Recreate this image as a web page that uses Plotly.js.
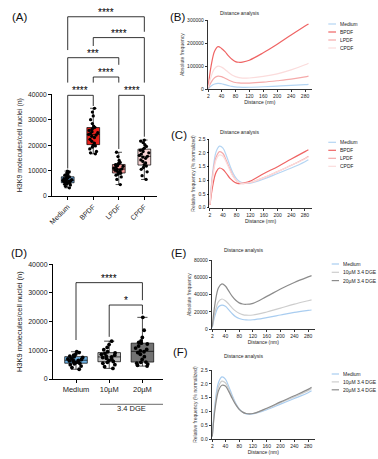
<!DOCTYPE html>
<html><head><meta charset="utf-8">
<script src="https://cdn.plot.ly/plotly-3.0.1.min.js"></script>
<style>html,body{margin:0;padding:0;background:#fff}#chart{width:378px;height:459px}</style>
</head><body><div id="chart"></div>
<script>
// ---------- Panel A data ----------
const groupsA = ['Medium','BPDF','LPDF','CPDF'];
const mediumA = [3200,3800,4300,4600,4800,5000,5100,5300,5500,5600,5800,5900,6000,6100,6200,6400,6600,6800,7000,7200,7500,7600,7900,8200,8600,9000,9400,9800];
const bpdfA = [16600,17000,17500,18500,19200,19700,20000,20800,21500,22300,23000,23500,24000,24200,24500,24900,25300,25800,26200,26700,27000,27500,28500,30000,31500,33000,34500];
const lpdfA = [4500,6500,7500,8200,8600,8900,9200,9500,9800,10100,10300,10500,10700,11000,11300,11700,12000,12300,12500,12800,13200,14000,15500,17200];
const cpdfA = [6500,8000,9500,10500,11200,11800,12300,13000,13600,14200,14800,15300,15600,16000,16500,17000,17500,18000,18300,18800,19500,20200,21000,21600,22000];
const colorsA = ['#6fa6d6','#e8221c','#f39391','#f9d4d4'];

// ---------- Panel D data ----------
const groupsD = ['Medium','10µM','20µM'];
const mediumD = [3400,4000,4500,5000,5300,5500,5700,5900,6100,6300,6500,6600,6800,7000,7200,7500,7800,8000,8300,8700,9200,9500];
const dge10D = [3700,4300,5000,5500,5800,6100,6500,6900,7200,7500,7700,8000,8300,8600,8900,9100,9500,10200,11000,12000,13200];
const dge20D = [4500,4800,5200,5500,5800,5900,6800,7800,8600,9200,9500,9800,10300,10800,11500,12200,12500,12800,13300,14500,17000,21500];
const colorsD = ['#6db3e6','#b9b9b9','#727272'];

// ---------- Distance analysis ----------
const distance = [2,10,20,30,40,50,60,70,80,90,100,120,160,200,240,280,290];
const namesBC = ['Medium','BPDF','LPDF','CPDF'];
const colorsBC = ['#b5d5f3','#ef6464','#f5aaaa','#fbdcdc'];
const absMedium = [2000,14000,23000,26000,24000,20000,16000,12500,10500,9200,8700,8800,11000,14000,17000,20500,21700];
const absBPDF = [14000,100000,165000,185000,177000,163000,145000,130000,120000,117000,118000,126000,158000,195000,235000,274000,283000];
const absLPDF = [5000,30000,50000,57000,55000,48000,40000,34000,29500,27500,26500,27000,31000,37000,44000,54000,57000];
const absCPDF = [8000,55000,90000,100000,96000,86000,73000,62000,55000,50500,48500,49000,56000,67000,84000,106000,113000];
const relMedium = [0.15,1.3,2.05,2.25,2.18,1.9,1.55,1.25,1.05,0.95,0.9,0.9,1.05,1.25,1.45,1.68,1.75];
const relBPDF = [0.1,0.8,1.3,1.45,1.4,1.25,1.08,0.97,0.9,0.88,0.9,0.97,1.25,1.5,1.78,2.05,2.12];
const relLPDF = [0.12,1.2,1.85,2.05,1.98,1.72,1.42,1.15,0.98,0.9,0.88,0.92,1.1,1.32,1.55,1.8,1.88];
const relCPDF = [0.12,1.1,1.75,1.93,1.88,1.65,1.38,1.13,0.98,0.91,0.89,0.92,1.1,1.32,1.55,1.78,1.85];

const namesEF = ['Medium','10µM 3.4 DGE','20µM 3.4 DGE'];
const colorsEF = ['#a9cdf0','#cdcdcd','#8c8c8c'];
const absMediumE = [2000,16000,26000,28000,26500,22500,18000,14500,12500,11300,10800,11000,13500,16500,19500,21800,22300];
const abs10E = [2500,20000,32000,35000,33000,29000,24500,21000,18500,17000,16300,16500,20000,24500,29000,33000,34000];
const abs20E = [3000,30000,48000,52500,50000,44000,38000,33500,30500,29200,28900,30000,38000,46500,54000,60500,62000];
const relMediumF = [0.1,1.3,2.05,2.25,2.17,1.9,1.58,1.3,1.1,0.98,0.92,0.92,1.07,1.27,1.47,1.68,1.75];
const rel10F = [0.1,1.2,1.9,2.1,2.04,1.8,1.52,1.27,1.09,0.98,0.93,0.93,1.1,1.32,1.53,1.75,1.83];
const rel20F = [0.1,1.1,1.75,1.95,1.92,1.72,1.47,1.25,1.08,0.98,0.93,0.93,1.12,1.35,1.57,1.8,1.88];

const distTicks = [2,40,80,120,160,200,240,280];

// ---------- geometry (pixels) ----------
const W=378,H=459;
const PX=x=>x/W, PY=y=>1-y/H;
const dom = {
  A:{x:[52,157], y:[94.3,196]},
  B:{x:[207.6,312], y:[20,89.3]},
  C:{x:[209.3,311.8], y:[139.3,207.7]},
  D:{x:[53,163], y:[264.3,379]},
  E:{x:[211.6,315], y:[260,329.3]},
  F:{x:[211.6,315], y:[370,439.3]}
};
const xd=p=>[PX(dom[p].x[0]),PX(dom[p].x[1])];
const yd=p=>[PY(dom[p].y[1]),PY(dom[p].y[0])];
const FONT='Liberation Sans, Arial, sans-serif';

const traces=[];
// A boxes
[mediumA,bpdfA,lpdfA,cpdfA].forEach((vals,i)=>{
  traces.push({type:'box',name:groupsA[i],y:vals,xaxis:'x',yaxis:'y',boxpoints:'all',jitter:0.8,pointpos:0,
    width:0.5,fillcolor:colorsA[i],line:{color:'#000',width:0.7},whiskerwidth:0.5,
    marker:{color:'#000',size:3.3},showlegend:false,hoverinfo:'skip'});
});
// D boxes
[mediumD,dge10D,dge20D].forEach((vals,i)=>{
  traces.push({type:'box',name:groupsD[i],y:vals,xaxis:'x4',yaxis:'y4',boxpoints:'all',jitter:0.8,pointpos:0,
    width:0.68,fillcolor:colorsD[i],line:{color:'#000',width:0.7},whiskerwidth:0.45,
    marker:{color:'#000',size:3.8},showlegend:false,hoverinfo:'skip'});
});
function addLines(series,names,colors,xa,ya){
  series.forEach((s,i)=>traces.push({type:'scatter',mode:'lines',x:distance,y:s,name:names[i],xaxis:xa,yaxis:ya,
    line:{color:colors[i],width:1.2,shape:'spline',smoothing:1},showlegend:false,hoverinfo:'skip'}));
}
addLines([absMedium,absBPDF,absLPDF,absCPDF],namesBC,colorsBC,'x2','y2');
addLines([relMedium,relBPDF,relLPDF,relCPDF],namesBC,colorsBC,'x3','y3');
addLines([absMediumE,abs10E,abs20E],namesEF,colorsEF,'x5','y5');
addLines([relMediumF,rel10F,rel20F],namesEF,colorsEF,'x6','y6');

const shapes=[], annotations=[];
function bracket(xref,panel,ymax,xa,xb,top,legA,legB,label,fs){
  const d=yd(panel); const toP=v=>d[0]+(d[1]-d[0])*v/ymax;
  const line={color:'#000',width:0.8};
  shapes.push({type:'line',xref,yref:'paper',x0:xa,x1:xa,y0:toP(legA),y1:toP(top),line});
  shapes.push({type:'line',xref,yref:'paper',x0:xa,x1:xb,y0:toP(top),y1:toP(top),line});
  shapes.push({type:'line',xref,yref:'paper',x0:xb,x1:xb,y0:toP(legB),y1:toP(top),line});
  annotations.push({xref,yref:'paper',x:(xa+xb)/2,y:toP(top),yanchor:'bottom',yshift:-2,text:label,showarrow:false,
    borderpad:0,font:{size:fs,color:'#000',family:FONT}});
}
bracket('x','A',40000,0,3,70500,57400,64600,'****',10);
bracket('x','A',40000,1,3,62300,59000,44600,'****',10);
bracket('x','A',40000,0,2,54400,44600,51600,'***',10);
bracket('x','A',40000,1,2,46800,44600,44600,'****',10);
bracket('x','A',40000,0,1,39600,10800,35400,'****',10);
bracket('x','A',40000,2,3,39600,18500,23300,'****',10);
bracket('x4','D',40000,0,2,33600,13600,27500,'****',10);
bracket('x4','D',40000,1,2,25800,14700,22600,'*',10);

// group line under 10µM / 20µM
shapes.push({type:'line',xref:'paper',yref:'paper',x0:PX(100),x1:PX(163),y0:PY(404.3),y1:PY(404.3),line:{color:'#444',width:0.8}});
annotations.push({xref:'paper',yref:'paper',x:PX(131.7),y:PY(414),text:'3.4 DGE',showarrow:false,borderpad:0,font:{size:7.5,color:'#222',family:FONT}});

// panel labels
[['(A)',11,10],['(B)',178,10],['(C)',179,128],['(D)',10,253],['(E)',179,253],['(F)',180,359]].forEach(([t,x,y])=>{
  annotations.push({xref:'paper',yref:'paper',x:PX(x),y:PY(y),text:t,showarrow:false,borderpad:0,font:{size:11.5,color:'#111',family:FONT}});
});
// titles
[[260,9.3],[260,128.3],[264,250],[264,360]].forEach(([x,y])=>{
  annotations.push({xref:'paper',yref:'paper',x:PX(x),y:PY(y),text:'Distance analysis',showarrow:false,borderpad:0,font:{size:5,color:'#222',family:FONT}});
});
// manual legends
function legend(names,colors,x0,x1,xt,rows){
  names.forEach((n,i)=>{
    shapes.push({type:'line',xref:'paper',yref:'paper',x0:PX(x0),x1:PX(x1),y0:PY(rows[i]),y1:PY(rows[i]),line:{color:colors[i],width:1.2}});
    annotations.push({xref:'paper',yref:'paper',x:PX(xt),y:PY(rows[i]),xanchor:'left',yanchor:'middle',text:n,showarrow:false,borderpad:0,
      height:6,font:{size:5,color:'#222',family:FONT}});
  });
}
legend(namesBC,colorsBC,328.3,336,339,[24,32,40,48]);
legend(namesBC,colorsBC,328.3,336,339,[142.3,150.3,158.3,166.3]);
legend(namesEF,colorsEF,331.7,339,342,[264,272.3,280.6]);
legend(namesEF,colorsEF,331.7,339,342,[374,381.9,389.8]);

function boxAxisX(p,range,fs,angle){
  return {domain:xd(p),type:'category',range,showline:true,linecolor:'#000',linewidth:1,ticks:'outside',ticklen:3,tickwidth:1,
    tickcolor:'#000',tickangle:angle,tickfont:{size:fs,color:'#222',family:FONT},showgrid:false,zeroline:false,fixedrange:true};
}
function boxAxisY(p,title,fs,tfs,stand){
  return {domain:yd(p),range:[0,40000],tickvals:[0,10000,20000,30000,40000],tickformat:'d',showline:true,linecolor:'#000',linewidth:1,
    ticks:'outside',ticklen:3,tickwidth:1,tickcolor:'#000',tickfont:{size:fs,color:'#222',family:FONT},showgrid:false,zeroline:false,
    title:{text:title,font:{size:tfs,color:'#222',family:FONT},standoff:stand}};
}
function distX(p,anchor){
  return {domain:xd(p),anchor,range:[0,300],tickvals:distTicks,showline:true,linecolor:'#000',linewidth:0.8,ticks:'outside',ticklen:2,
    tickwidth:0.8,tickcolor:'#000',tickfont:{size:5,color:'#222',family:FONT},showgrid:false,zeroline:false,
    title:{text:'Distance (nm)',font:{size:5,color:'#222',family:FONT},standoff:2}};
}
function distY(p,anchor,range,tv,fmt,title){
  return {domain:yd(p),anchor,range,tickvals:tv,tickformat:fmt,showline:true,linecolor:'#000',linewidth:0.8,ticks:'outside',ticklen:2,
    tickwidth:0.8,tickcolor:'#000',tickfont:{size:5,color:'#222',family:FONT},showgrid:false,zeroline:false,
    title:{text:title,font:{size:5,color:'#444',family:FONT},standoff:2}};
}
const relT=[0,0.5,1,1.5,2,2.5];
const layout={
  width:W,height:H,margin:{l:0,r:0,t:0,b:0},paper_bgcolor:'#fff',plot_bgcolor:'rgba(0,0,0,0)',showlegend:false,
  font:{family:FONT},boxmode:'overlay',
  xaxis:Object.assign(boxAxisX('A',[-0.615,3.496],7,-45),{anchor:'y'}),
  yaxis:Object.assign(boxAxisY('A','H3K9 molecules/cell nuclei (n)',6.7,7,4),{anchor:'x'}),
  xaxis4:Object.assign(boxAxisX('D',[-0.693,2.62],7.5,0),{anchor:'y4'}),
  yaxis4:Object.assign(boxAxisY('D','H3K9 molecules/cell nuclei (n)',7,7.5,4),{anchor:'x4'}),
  xaxis2:distX('B','y2'),
  yaxis2:distY('B','x2',[0,300000],[0,100000,200000,300000],'d','Absolute frequency'),
  xaxis3:distX('C','y3'),
  yaxis3:distY('C','x3',[0,2.5],relT,'.1f','Relative frequency (% normalized)'),
  xaxis5:distX('E','y5'),
  yaxis5:distY('E','x5',[0,80000],[0,20000,40000,60000,80000],'d','Absolute frequency'),
  xaxis6:distX('F','y6'),
  yaxis6:distY('F','x6',[0,2.5],relT,'.1f','Relative frequency (% normalized)'),
  shapes,annotations
};
Plotly.newPlot('chart',traces,layout,{displayModeBar:false,staticPlot:true});
</script></body></html>
